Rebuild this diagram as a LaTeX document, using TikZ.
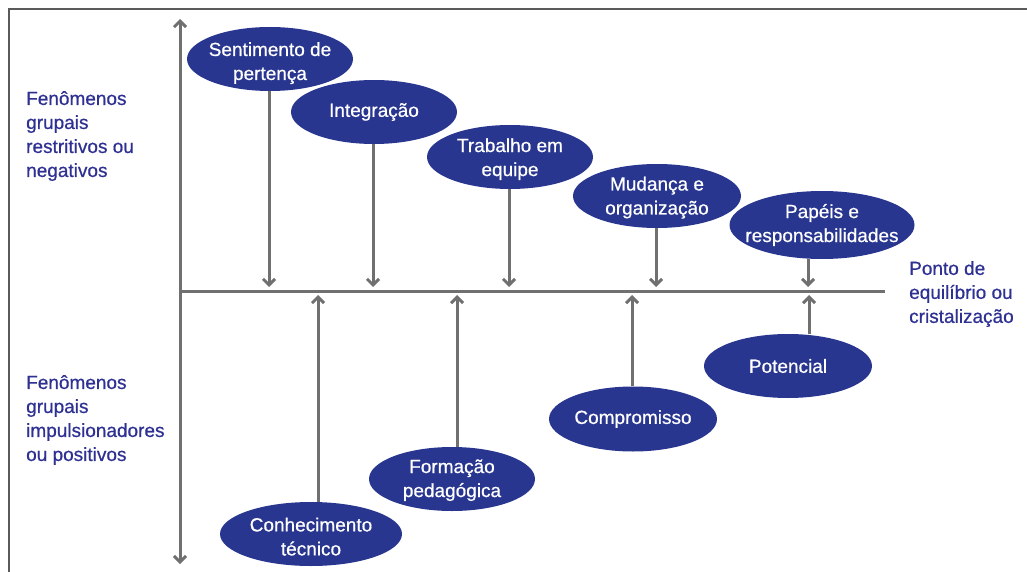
\documentclass[tikz,border=0pt]{standalone}
\usepackage{fontspec}
\setmainfont{Liberation Sans}[FakeBold=0.6]
\usetikzlibrary{shapes.geometric,arrows.meta}
\definecolor{navy}{RGB}{41,54,143}
\definecolor{labelblue}{RGB}{46,49,146}
\definecolor{axisgray}{RGB}{112,112,112}
\definecolor{framegray}{RGB}{90,90,90}

\begin{document}
\begin{tikzpicture}[x=1pt,y=-1pt]
			\useasboundingbox (0,0) rectangle (1027,572);
			% frame
			\draw [framegray,line width=2.5pt] (9,572) -- (9,9) -- (1027,9);

			% axes
			\coordinate (ytop) at (180,19);
			\coordinate (ybot) at (180,564);
			\coordinate (o) at (180,291);
			\coordinate (xend) at (885,291);
			\draw [axisgray,line width=3pt,{Straight Barb[length=6pt,width=12pt]}-{Straight Barb[length=6pt,width=12pt]}] (ytop) -- (ybot);
			\draw [axisgray,line width=3pt] (o) -- (xend);

			% points on the axis
			\foreach \name/\x in {d1/269,d2/373,d3/509,d4/656,d5/808} {
				\coordinate (\name) at (\x,287);
			}
			\foreach \name/\x in {u1/318,u2/457,u3/632,u4/809} {
				\coordinate (\name) at (\x,295);
			}

			\begin{scope}[every node/.style={ellipse,fill=navy,text=white,align=center,inner xsep=-20pt,inner ysep=-5pt,minimum width=166pt,minimum height=64pt,font=\fontsize{19}{24}\selectfont}]
	    		\node [text height=46pt] (sp) at (270,59) {Sentimento de\\pertença};
	    		\node (in) at (374,112) {Integração};
	    		\node [text height=42pt] (tr) at (510,157) {Trabalho em\\equipe};
	    		\node [text height=41pt,minimum width=168pt] (mu) at (657,196) {Mudança e\\organização};
	    		\node [minimum width=185pt,minimum height=68pt] (pa) at (822,225) {Papéis e\\responsabilidades};
	    		\node [text height=43pt,minimum width=182pt] (ct) at (311,534) {Conhecimento\\técnico};
	    		\node [text height=40pt] (fp) at (452,479) {Formação\\pedagógica};
	    		\node [minimum width=168pt,minimum height=65pt] (co) at (633,419) {Compromisso};
	    		\node [minimum width=168pt] (po) at (788,366) {Potencial};
			\end{scope}

			\begin{scope}[every node/.style={text=labelblue,align=left,anchor=west,inner sep=0pt,font=\fontsize{19}{24}\selectfont}]
	    		\node (neg) at (26,136) {Fenômenos\\grupais\\restritivos ou\\negativos};
	    		\node (pos) at (26,420) {Fenômenos\\grupais\\impulsionadores\\ou positivos};
	    		\node (eq) at (909,294) {Ponto de\\equilíbrio ou\\cristalização};
			\end{scope}

			\begin{scope}[every edge/.style={draw=axisgray,line width=3pt,-{Straight Barb[length=6pt,width=12pt]}}]
				\path (sp.south -| d1) edge (d1);
				\path (in.south -| d2) edge (d2);
				\path (tr.south -| d3) edge (d3);
				\path (mu.south -| d4) edge (d4);
				\path (pa.south -| d5) edge (d5);
				\path (ct.north -| u1) edge (u1);
				\path (fp.north -| u2) edge (u2);
				\path (co.north -| u3) edge (u3);
				\path (po.north -| u4) edge (u4);
			\end{scope}
		\end{tikzpicture}
\end{document}
